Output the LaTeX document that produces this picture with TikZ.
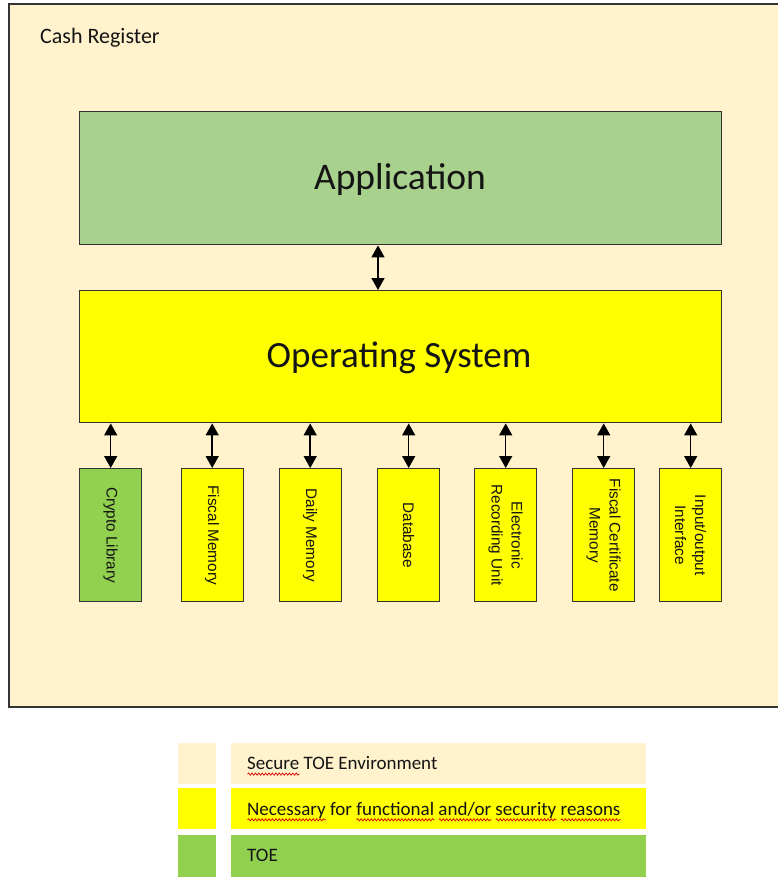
\documentclass[tikz,border=0pt]{standalone}
\usepackage{fontspec}
\setmainfont{Carlito}
\newfontfamily\labelfont{Liberation Sans}
\usetikzlibrary{arrows.meta,decorations.pathmorphing}
\definecolor{cream}{HTML}{FFF2CC}
\definecolor{appgreen}{HTML}{A9D18E}
\definecolor{toegreen}{HTML}{92D050}
\definecolor{osyellow}{HTML}{FFFF00}
\definecolor{edgegray}{HTML}{333333}
\definecolor{txt}{HTML}{141414}
\newlength\wavylen
\newcommand\wavyword[1]{\settowidth\wavylen{#1}\rlap{\tikz[baseline=0pt]\draw[red!85!black,line width=0.7pt,decorate,decoration={snake,amplitude=1.1pt,segment length=3.4pt}] (0pt,-4.8pt) -- (\wavylen,-4.8pt);}#1}
\tikzset{
  blockbox/.style={draw=edgegray, line width=1.4pt, inner sep=0pt, anchor=north west},
  smallbox/.style={blockbox, minimum width=62pt, minimum height=133pt},
  vlabel/.style={rotate=-90, align=center, text=txt, inner sep=0pt, font=\labelfont\fontsize{15.3}{20}\selectfont},
  biarrow/.style={line width=1.5pt, {Triangle[length=12pt,width=13pt]}-{Triangle[length=12pt,width=13pt]}},
  legswatch/.style={inner sep=0pt, anchor=north west, minimum width=38pt},
  legbar/.style={inner sep=0pt, anchor=north west, minimum width=415pt},
  legtext/.style={anchor=base west, inner sep=0pt, text=txt, font=\fontsize{19}{23}\selectfont}
}
\begin{document}
\begin{tikzpicture}[x=1pt,y=-1pt]
\useasboundingbox (0,0) rectangle (778,879);
\fill[white] (0,0) rectangle (778,879);
% environment
\fill[cream] (9,4) rectangle (778,707);
\draw[edgegray, line width=1.8pt] (778,4) -- (9,4) -- (9,707) -- (778,707);
\node[anchor=base west, inner sep=0pt, text=txt, font=\fontsize{22}{26}\selectfont] (title) at (40,43) {Cash Register};
% application and OS
\node[blockbox, fill=appgreen, minimum width=642pt, minimum height=133pt] (app) at (79,111) {};
\node[anchor=base, inner sep=0pt, text=txt, font=\fontsize{37.5}{44}\selectfont] (apptext) at (400,189.3) {Application};
\node[blockbox, fill=osyellow, minimum width=642pt, minimum height=132pt] (os) at (79,290) {};
\node[anchor=base, inner sep=0pt, text=txt, font=\fontsize{37}{44}\selectfont] (ostext) at (399,367.3) {Operating System};
\coordinate (appos) at (378,260);
\draw[biarrow] (app.south -| appos) -- (os.north -| appos);
% components
\node[smallbox, fill=toegreen] (crypto) at (79,468) {};
\node[smallbox, fill=osyellow] (fiscal) at (180.5,468) {};
\node[smallbox, fill=osyellow] (daily) at (278.5,468) {};
\node[smallbox, fill=osyellow] (db) at (377,468) {};
\node[smallbox, fill=osyellow] (eru) at (474,468) {};
\node[smallbox, fill=osyellow] (fcm) at (572,468) {};
\node[smallbox, fill=osyellow] (io) at (659,468) {};
\node[vlabel] (cryptotext) at (crypto.center) {Crypto Library};
\node[vlabel] (fiscaltext) at (fiscal.center) {Fiscal Memory};
\node[vlabel] (dailytext) at (daily.center) {Daily Memory};
\node[vlabel] (dbtext) at (db.center) {Database};
\node[vlabel] (erutext) at (eru.center) {Electronic\\Recording Unit};
\node[vlabel] (fcmtext) at (fcm.center) {Fiscal Certificate\\Memory};
\node[vlabel] (iotext) at (io.center) {Input/output\\Interface};
\foreach \b in {crypto,fiscal,daily,db,eru,fcm,io}
  \draw[biarrow] (os.south -| \b.north) -- (\b.north);
% legend
\node[legswatch, fill=cream, minimum height=41pt] (sw1) at (178,743) {};
\node[legbar, fill=cream, minimum height=41pt] (lb1) at (231,743) {};
\node[legtext] (lt1) at (247,769.3) {\wavyword{Secure} TOE Environment};
\node[legswatch, fill=osyellow, minimum height=41pt] (sw2) at (178,788) {};
\node[legbar, fill=osyellow, minimum height=41pt] (lb2) at (231,788) {};
\node[legtext] (lt2) at (247,815) {\wavyword{Necessary} for \wavyword{functional} \wavyword{and/or} \wavyword{security} \wavyword{reasons}};
\node[legswatch, fill=toegreen, minimum height=42pt] (sw3) at (178,835) {};
\node[legbar, fill=toegreen, minimum height=42pt] (lb3) at (231,835) {};
\node[legtext] (lt3) at (247,861.7) {TOE};
\end{tikzpicture}
\end{document}
